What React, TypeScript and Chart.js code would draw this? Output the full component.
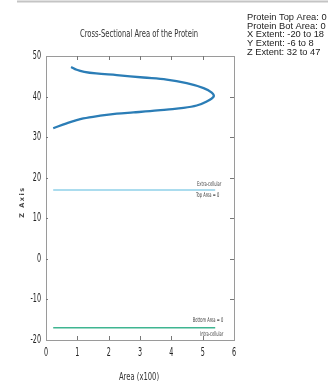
import React, { useEffect, useRef } from "react";
import { Chart, registerables } from "chart.js";

Chart.register(...registerables);

// Cross-sectional area profile (x = area x100, z = height)
const areaX = [0.23, 0.66, 1.19, 1.73, 2.26, 2.79, 3.32, 3.85, 4.39, 4.81, 5.13, 5.35, 5.29, 5.03, 4.49, 3.85, 3.11, 2.26, 1.6, 1.22, 0.98, 0.8];
const areaZ = [32.2, 33.4, 34.6, 35.3, 35.8, 36.1, 36.4, 36.8, 37.2, 37.8, 38.8, 40, 41, 42.1, 43.3, 44.2, 44.7, 45.3, 45.7, 46.1, 46.6, 47.3];

// Membrane boundaries
const boundaryX = [0.23, 5.4];
const topBoundaryZ = 17;
const botBoundaryZ = -17;

const xTicks = [0, 1, 2, 3, 4, 5, 6];
const zTicks = [-20, -10, 0, 10, 20, 30, 40, 50];

const titleText = "Cross-Sectional Area of the Protein";
const xTitle = "Area (x100)";
const yTitle = "Z Axis";
const infoLines = [
  "Protein Top Area: 0",
  "Protein Bot Area: 0",
  "X Extent: -20 to 18",
  "Y Extent: -6 to 8",
  "Z Extent: 32 to 47",
];
const topLabels = ["Extra-cellular", "Top Area = 0"];
const botLabels = ["Bottom Area = 0", "Intra-cellular"];

const COND = "'DejaVu Sans Condensed', 'DejaVu Sans', sans-serif";

function narrowText(
  ctx: CanvasRenderingContext2D,
  text: string,
  x: number,
  y: number,
  size: number,
  align: CanvasTextAlign,
  squeeze: number,
) {
  ctx.save();
  ctx.translate(x, y);
  ctx.scale(squeeze, 1);
  ctx.font = `${size}px ${COND}`;
  ctx.textAlign = align;
  ctx.textBaseline = "middle";
  ctx.fillText(text, 0, 0);
  ctx.restore();
}

export default function App() {
  const ref = useRef<HTMLCanvasElement | null>(null);

  useEffect(() => {
    document.body.style.margin = "0";
    const canvas = ref.current!;
    const decor = {
      id: "decor",
      afterDraw(chart: any) {
        const ctx = chart.ctx as CanvasRenderingContext2D;
        const { left, right, top, bottom } = chart.chartArea;
        const xs = chart.scales.x;
        const ys = chart.scales.y;
        ctx.save();
        // top page line
        ctx.strokeStyle = "#c4c4c4";
        ctx.lineWidth = 2;
        ctx.beginPath();
        ctx.moveTo(17, 1.5);
        ctx.lineTo(328, 1.5);
        ctx.stroke();
        // box
        ctx.strokeStyle = "#9a9a9a";
        ctx.lineWidth = 1;
        ctx.strokeRect(left + 0.5, top + 0.5, right - left, bottom - top);
        // inward ticks
        ctx.strokeStyle = "#777";
        ctx.beginPath();
        xTicks.slice(1, -1).forEach((v) => {
          const px = Math.round(xs.getPixelForValue(v)) + 0.5;
          ctx.moveTo(px, bottom);
          ctx.lineTo(px, bottom - 4);
          ctx.moveTo(px, top);
          ctx.lineTo(px, top + 4);
        });
        zTicks.slice(1, -1).forEach((v) => {
          const py = Math.round(ys.getPixelForValue(v)) + 0.5;
          ctx.moveTo(right, py);
          ctx.lineTo(right - 4, py);
          ctx.moveTo(left, py);
          ctx.lineTo(left + 2, py);
        });
        ctx.stroke();
        // tick labels (from the library's scales)
        ctx.fillStyle = "#222";
        xs.ticks.forEach((t: any) => {
          narrowText(ctx, String(t.value), xs.getPixelForValue(t.value), 353, 11.5, "center", 0.62);
        });
        ys.ticks.forEach((t: any) => {
          narrowText(ctx, String(t.value), left - 5, ys.getPixelForValue(t.value), 11.5, "right", 0.62);
        });
        // titles
        ctx.fillStyle = "#333";
        narrowText(ctx, titleText, 139, 34, 10.5, "center", 0.72);
        narrowText(ctx, xTitle, 139, 377, 10.5, "center", 0.72);
        // y title
        ctx.save();
        ctx.translate(22, 202);
        ctx.rotate(-Math.PI / 2);
        ctx.font = "bold 6.5px 'DejaVu Sans', sans-serif";
        ctx.textAlign = "center";
        ctx.textBaseline = "middle";
        (ctx as any).letterSpacing = "1.5px";
        ctx.fillStyle = "#444";
        ctx.fillText(yTitle, 0, 0);
        ctx.restore();
        // boundary labels
        ctx.fillStyle = "#444";
        const xr = xs.getPixelForValue(boundaryX[1]) + 6;
        const yt = ys.getPixelForValue(topBoundaryZ);
        narrowText(ctx, topLabels[0], xr, yt - 6, 6.5, "right", 0.62);
        narrowText(ctx, topLabels[1], xr - 2, yt + 5, 6.5, "right", 0.62);
        const yb = ys.getPixelForValue(botBoundaryZ);
        narrowText(ctx, botLabels[0], xr + 2, yb - 8, 6.5, "right", 0.62);
        narrowText(ctx, botLabels[1], xr + 2, yb + 6, 6.5, "right", 0.62);
        // info text
        ctx.textAlign = "left";
        ctx.textBaseline = "alphabetic";
        ctx.font = "9.3px 'Liberation Sans', Arial, sans-serif";
        ctx.fillStyle = "#222";
        infoLines.forEach((t, i) => ctx.fillText(t, 247, 20 + i * 8.7));
        ctx.restore();
      },
    };

    const chart = new Chart(canvas, {
      type: "scatter",
      data: {
        datasets: [
          {
            data: areaX.map((x, i) => ({ x, y: areaZ[i] })),
            showLine: true,
            borderColor: "#2b7db6",
            borderWidth: 2.3,
            pointRadius: 0,
            tension: 0.35,
          },
          {
            data: boundaryX.map((x) => ({ x, y: topBoundaryZ })),
            showLine: true,
            borderColor: "#8fd0e8",
            borderWidth: 1.5,
            pointRadius: 0,
          },
          {
            data: boundaryX.map((x) => ({ x, y: botBoundaryZ })),
            showLine: true,
            borderColor: "#3fb591",
            borderWidth: 1.5,
            pointRadius: 0,
          },
        ],
      },
      options: {
        animation: false,
        responsive: false,
        maintainAspectRatio: false,
        layout: { padding: { left: 0, top: 56, right: 94, bottom: 0 } },
        plugins: { legend: { display: false }, tooltip: { enabled: false }, title: { display: false } },
        scales: {
          x: {
            type: "linear",
            min: 0,
            max: 6,
            afterFit: (s: any) => {
              s.height = 41;
            },
            grid: { display: false, drawTicks: false },
            border: { display: false },
            ticks: { stepSize: 1, display: false },
          },
          y: {
            type: "linear",
            min: -20,
            max: 50,
            afterFit: (s: any) => {
              s.width = 46;
            },
            grid: { display: false, drawTicks: false },
            border: { display: false },
            ticks: { stepSize: 10, display: false },
          },
        },
      },
      plugins: [decor],
    });
    return () => chart.destroy();
  }, []);

  return (
    <div style={{ position: "absolute", left: 0, top: 0, width: 328, height: 381, background: "#fff" }}>
      <canvas ref={ref} width={328} height={381} style={{ width: 328, height: 381, display: "block" }} />
    </div>
  );
}
